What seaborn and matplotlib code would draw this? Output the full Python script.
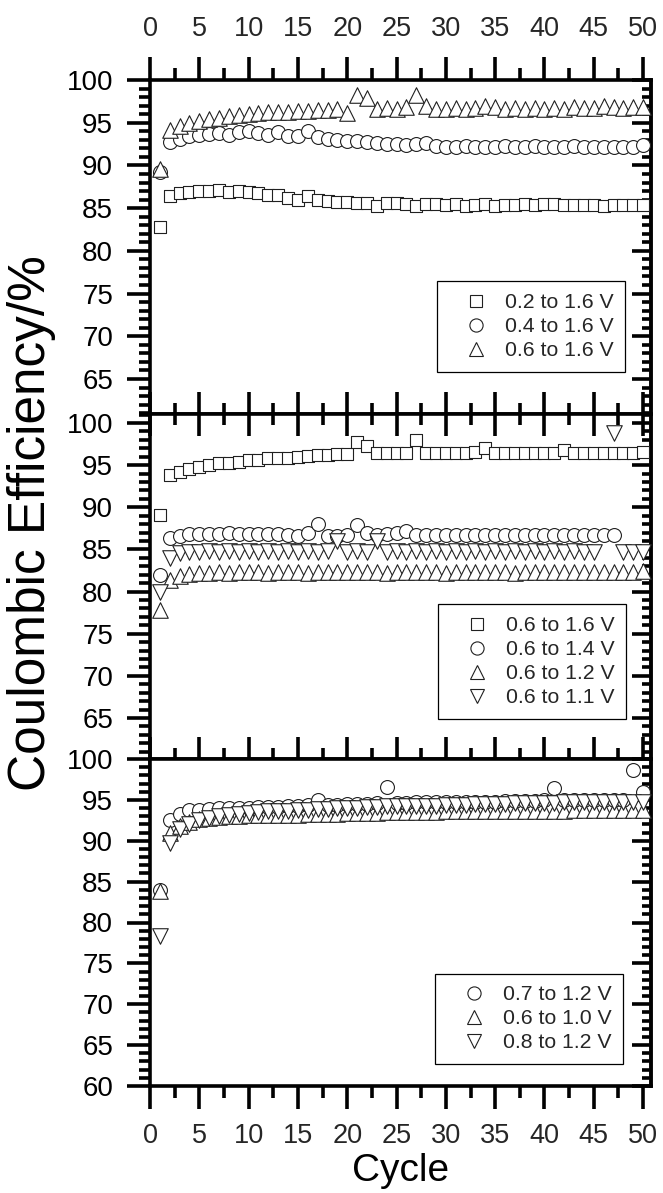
import numpy as np
import pandas as pd
import matplotlib
matplotlib.use("Agg")
import matplotlib.pyplot as plt
import matplotlib.lines as mlines
import seaborn as sns
from matplotlib.ticker import MultipleLocator

nan = np.nan
cycles = list(range(1, 51))

# ---------------- top panel ----------------
top_labels = ["0.2 to 1.6 V", "0.4 to 1.6 V", "0.6 to 1.6 V"]
top_02_16 = [82.8, 86.4, 86.8, 86.9, 87.0, 87.0, 87.1, 86.9, 87.0, 86.9,
             86.8, 86.5, 86.5, 86.2, 86.0, 86.4, 85.9, 85.8, 85.7, 85.7,
             85.6, 85.6, 85.3, 85.6, 85.6, 85.5, 85.2, 85.5, 85.5, 85.4,
             85.5, 85.2, 85.4, 85.5, 85.3, 85.4, 85.4, 85.5, 85.4, 85.5,
             85.5, 85.4, 85.4, 85.4, 85.4, 85.2, 85.4, 85.4, 85.4, 85.4]
top_04_16 = [89.2, 92.8, 93.1, 93.5, 93.6, 93.7, 93.8, 93.6, 93.9, 94.0,
             93.8, 93.6, 93.9, 93.5, 93.5, 94.0, 93.3, 93.1, 93.0, 92.9,
             92.9, 92.7, 92.6, 92.5, 92.5, 92.4, 92.5, 92.6, 92.3, 92.2,
             92.2, 92.3, 92.2, 92.2, 92.2, 92.3, 92.2, 92.2, 92.3, 92.2,
             92.2, 92.2, 92.3, 92.2, 92.2, 92.2, 92.2, 92.2, 92.2, 92.4]
top_06_16 = [89.6, 94.2, 94.6, 95.0, 95.2, 95.4, 95.5, 95.8, 95.9, 96.0,
             96.1, 96.2, 96.3, 96.3, 96.4, 96.4, 96.5, 96.5, 96.6, 96.1,
             98.2, 97.9, 96.6, 96.7, 96.6, 96.8, 98.3, 97.0, 96.6, 96.6,
             96.7, 96.6, 96.7, 97.0, 96.8, 96.6, 96.7, 96.6, 96.7, 96.6,
             96.7, 96.6, 96.8, 96.7, 96.7, 96.9, 96.8, 96.7, 96.8, 96.8]

# ---------------- middle panel ----------------
mid_labels = ["0.6 to 1.6 V", "0.6 to 1.4 V", "0.6 to 1.2 V", "0.6 to 1.1 V"]
mid_06_16 = [89.1, 93.8, 94.2, 94.5, 94.8, 95.0, 95.2, 95.3, 95.4, 95.6,
             95.6, 95.8, 95.8, 95.9, 96.0, 96.1, 96.2, 96.2, 96.3, 96.3,
             97.7, 97.3, 96.4, 96.5, 96.5, 96.5, 98.0, 96.4, 96.4, 96.4,
             96.4, 96.5, 96.6, 97.0, 96.4, 96.4, 96.4, 96.4, 96.5, 96.4,
             96.4, 96.8, 96.5, 96.5, 96.5, 96.5, 96.5, 96.5, 96.5, 96.6]
mid_06_14 = [82.0, 86.3, 86.6, 86.8, 86.8, 86.8, 86.8, 86.9, 86.8, 86.8,
             86.8, 86.8, 86.8, 86.7, 86.6, 87.0, 88.0, 86.6, 86.6, 86.7,
             87.9, 86.9, 86.7, 86.8, 86.9, 87.2, 86.7, 86.7, 86.7, 86.7,
             86.7, 86.7, 86.7, 86.7, 86.7, 86.7, 86.7, 86.7, 86.7, 86.7,
             86.7, 86.7, 86.7, 86.7, 86.7, 86.7, 86.7, nan, nan, nan]
mid_06_12 = [77.8, 81.4, 81.9, 82.1, 82.2, 82.2, 82.3, 82.2, 82.3, 82.3,
             82.3, 82.2, 82.3, 82.3, 82.3, 82.2, 82.3, 82.3, 82.3, 82.3,
             82.3, 82.3, 82.3, 82.2, 82.3, 82.3, 82.3, 82.3, 82.3, 82.2,
             82.3, 82.3, 82.3, 82.3, 82.3, 82.3, 82.2, 82.3, 82.3, 82.3,
             82.3, 82.3, 82.3, 82.3, 82.3, 82.3, 82.3, 82.3, 82.3, 82.4]
mid_06_11 = [79.9, 84.0, 84.6, 84.7, 84.7, 84.8, 84.7, 84.8, 84.7, 84.8,
             84.7, 84.8, 84.7, 84.8, 84.7, 84.8, 84.7, 84.8, 86.0, 84.7,
             84.8, 84.7, 86.0, 84.7, 84.8, 84.7, 84.8, 84.7, 84.8, 84.7,
             84.8, 84.7, 84.8, 84.7, 84.8, 84.7, 84.8, 84.7, 84.8, 84.7,
             84.8, 84.7, 84.8, 84.7, 84.7, nan, 98.8, 84.7, 84.7, 84.7]

# ---------------- bottom panel ----------------
bot_labels = ["0.7 to 1.2 V", "0.6 to 1.0 V", "0.8 to 1.2 V"]
bot_07_12 = [84.0, 92.5, 93.3, 93.8, 93.8, 93.9, 94.0, 94.0, 94.0, 94.0,
             94.1, 94.1, 94.1, 94.2, 94.3, 94.4, 95.0, 94.4, 94.4, 94.5,
             94.5, 94.5, 94.6, 96.6, 94.6, 94.6, 94.7, 94.7, 94.7, 94.7,
             94.8, 94.8, 94.8, 94.8, 94.8, 94.9, 94.9, 94.9, 94.9, 95.0,
             96.5, 95.0, 95.0, 95.0, 95.0, 95.0, 95.0, 95.0, 98.7, 96.0]
bot_06_10 = [83.9, 91.0, 91.8, 92.3, 92.6, 92.8, 92.9, 93.0, 93.0, 93.1,
             93.1, 93.1, 93.2, 93.2, 93.2, 93.3, 93.3, 93.3, 93.3, 93.4,
             93.4, 93.4, 93.4, 93.5, 93.5, 93.5, 93.5, 93.5, 93.5, 93.6,
             93.6, 93.6, 93.6, 93.6, 93.6, 93.7, 93.7, 93.7, 93.7, 93.7,
             93.7, 93.7, 93.8, 93.8, 93.8, 93.8, 93.8, 93.8, 93.8, 93.8]
bot_08_12 = [78.4, 89.7, 91.4, 92.0, 92.5, 92.8, 93.0, 93.2, 93.3, 93.4,
             93.5, 93.6, 93.6, 93.7, 93.8, 93.8, 93.9, 93.9, 94.0, 94.0,
             94.0, 94.1, 94.1, 94.2, 94.2, 94.2, 94.3, 94.3, 94.3, 94.4,
             94.4, 94.4, 94.5, 94.5, 94.5, 94.5, 94.6, 94.6, 94.6, 94.6,
             94.6, 94.7, 94.7, 94.7, 94.7, 94.7, 94.8, 94.8, 94.8, 94.8]

x_ticks_labels = ["0", "5", "10", "15", "20", "25", "30", "35", "40", "45", "50"]

sns.set_style("ticks")
plt.rcParams["font.family"] = ["Liberation Sans", "DejaVu Sans"]
plt.rcParams["axes.linewidth"] = 2.6

W, H = 663, 1193
fig = plt.figure(figsize=(W / 100, H / 100), dpi=100)


def rect(top_px, bot_px, left_px=150, right_px=651):
    return [left_px / W, 1 - bot_px / H, (right_px - left_px) / W, (bot_px - top_px) / H]


ax_top = fig.add_axes(rect(80, 414))
ax_mid = fig.add_axes(rect(414, 759))
ax_bot = fig.add_axes(rect(759, 1086))

EDGE = "#202020"
MK = {"s": 80, "o": 100, "^": 125, "v": 125}
LW = 0.8


def draw(ax, series, labels, markers):
    handles = []
    for vals, lab, m in zip(series, labels, markers):
        df = pd.DataFrame({"Cycle": cycles, "CE": vals}).dropna()
        sns.scatterplot(data=df, x="Cycle", y="CE", marker=m, s=MK[m],
                        color="white", edgecolor=EDGE, linewidth=LW,
                        ax=ax, zorder=3, clip_on=False, legend=False)
        handles.append(mlines.Line2D([], [], linestyle="none", marker=m,
                                     markersize=np.sqrt(MK[m]) * 0.95,
                                     markerfacecolor="white",
                                     markeredgecolor=EDGE, markeredgewidth=LW,
                                     label=lab))
    return handles


h_top = draw(ax_top, [top_02_16, top_04_16, top_06_16], top_labels, ["s", "o", "^"])
h_mid = draw(ax_mid, [mid_06_16, mid_06_14, mid_06_12, mid_06_11], mid_labels, ["s", "o", "^", "v"])
h_bot = draw(ax_bot, [bot_07_12, bot_06_10, bot_08_12], bot_labels, ["o", "^", "v"])

ylims = {ax_top: (60.9, 100.0), ax_mid: (60.14, 101.07), ax_bot: (60.0, 100.0)}

for ax in (ax_top, ax_mid, ax_bot):
    ax.set_xlim(0, 50.8)
    ax.set_ylim(*ylims[ax])
    ax.set_xlabel("")
    ax.set_ylabel("")
    ax.xaxis.set_major_locator(MultipleLocator(5))
    ax.xaxis.set_minor_locator(MultipleLocator(2.5))
    ax.yaxis.set_major_locator(MultipleLocator(5))
    ax.yaxis.set_minor_locator(MultipleLocator(1))
    for sp in ax.spines.values():
        sp.set_visible(True)
        sp.set_linewidth(2.6)
        sp.set_color("black")
    # left y ticks (outward, labelled)
    ax.tick_params(axis="y", which="both", left=True, right=False, direction="out",
                   width=2.6, color="black", labelsize=20, pad=10, labelcolor="black")
    ax.tick_params(axis="y", which="major", length=16.5)
    ax.tick_params(axis="y", which="minor", length=8.0)
    # right y ticks (inward, unlabelled)
    sec = ax.secondary_yaxis("right")
    sec.yaxis.set_major_locator(MultipleLocator(5))
    sec.yaxis.set_minor_locator(MultipleLocator(1))
    sec.tick_params(which="both", direction="in", width=2.6, color="black", labelright=False)
    sec.tick_params(which="major", length=13.5)
    sec.tick_params(which="minor", length=6.5)
    sec.spines["right"].set_linewidth(2.6)

# x ticks per panel
ax_top.tick_params(axis="x", which="both", bottom=False, top=True, labelbottom=False,
                   labeltop=True, direction="out", width=2.6, color="black",
                   labelsize=19.5, pad=11)
ax_top.tick_params(axis="x", which="major", length=16.5)
ax_top.tick_params(axis="x", which="minor", length=8.5)

ax_mid.tick_params(axis="x", which="both", bottom=True, top=True, labelbottom=False,
                   labeltop=False, direction="inout", width=2.6, color="black")
ax_mid.tick_params(axis="x", which="major", length=32)
ax_mid.tick_params(axis="x", which="minor", length=16)

ax_bot.tick_params(axis="x", which="both", bottom=True, top=False, labelbottom=True,
                   labeltop=False, direction="out", width=2.6, color="black",
                   labelsize=19.5, pad=10)
ax_bot.tick_params(axis="x", which="major", length=16.5)
ax_bot.tick_params(axis="x", which="minor", length=8.5)

for ax in (ax_top, ax_bot):
    ax.set_xticks(range(0, 51, 5))
    ax.set_xticklabels(x_ticks_labels)

ax_bot.set_xlabel("Cycle", fontsize=28, labelpad=3, color="black")

fig.text(0.048, 1 - 523 / H, "Coulombic Efficiency/%", rotation=90,
         ha="center", va="center", fontsize=37, color="black")

leg_kw = dict(loc="lower right", frameon=True, fancybox=False, framealpha=1,
              edgecolor="black", fontsize=15.3, handlelength=2.5,
              handletextpad=0.12, borderpad=0.55, labelspacing=0.24,
              borderaxespad=0, numpoints=1)
for ax, hs, anchor in ((ax_top, h_top, (0.948, 0.126)),
                       (ax_mid, h_mid, (0.950, 0.116)),
                       (ax_bot, h_bot, (0.944, 0.067))):
    leg = ax.legend(handles=hs, bbox_to_anchor=anchor, **leg_kw)
    leg.get_frame().set_linewidth(0.9)

fig.savefig("out.png", dpi=100)
